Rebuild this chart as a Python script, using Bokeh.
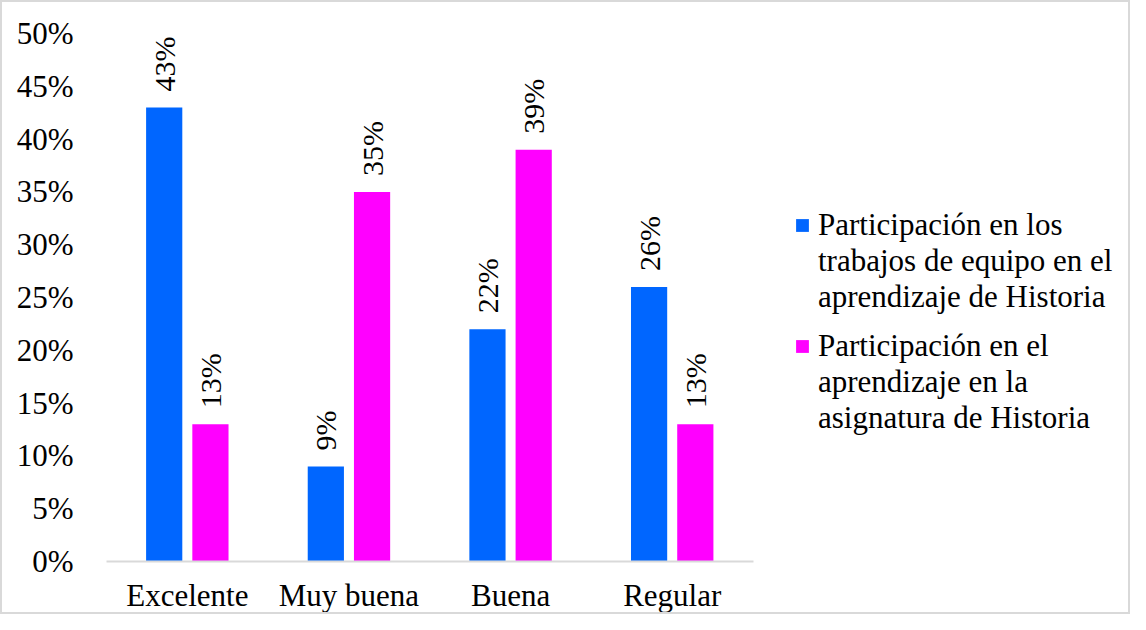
import math
from bokeh.plotting import figure
from bokeh.models import ColumnDataSource, Legend, LegendItem, FixedTicker, CustomJSTickFormatter, Range1d
from bokeh.transform import dodge
from bokeh.core.properties import value
from bokeh.embed import file_html
from bokeh.resources import INLINE

categories = ["Excelente", "Muy buena", "Buena", "Regular"]
equipo = [43, 9, 22, 26]
asignatura = [13, 35, 39, 13]
legend_lines_a = ["Participación en los", "trabajos de equipo en el", "aprendizaje de Historia"]
legend_lines_b = ["Participación en el", "aprendizaje en la", "asignatura de Historia"]
y_ticks = [0, 5, 10, 15, 20, 25, 30, 35, 40, 45, 50]

idx = list(range(len(categories)))
src = ColumnDataSource(dict(
    x=idx,
    a=equipo,
    b=asignatura,
    la=[f"{v}%" for v in equipo],
    lb=[f"{v}%" for v in asignatura],
))

W, H = 1130, 614
SERIF = "Liberation Serif"
# frame spans the full right side so the legend can sit inside it
x_range = Range1d(-0.5, -0.5 + 1022 / 161)
p = figure(x_range=x_range, y_range=(0, 50), width=W, height=H,
           output_backend="svg", toolbar_location=None,
           min_border_left=104, min_border_right=0, min_border_top=31, min_border_bottom=55)
p.styles = {"border": "2px solid #d9d9d9", "box-sizing": "border-box"}
p.outline_line_color = None
p.xgrid.grid_line_color = None
p.ygrid.grid_line_color = None
p.background_fill_color = "white"
p.border_fill_color = "white"

OFF, BW = 0.143, 0.224
r1 = p.vbar(x=dodge("x", -OFF), top="a", width=BW, source=src,
            fill_color="#0066FF", line_color=None)
r2 = p.vbar(x=dodge("x", OFF), top="b", width=BW, source=src,
            fill_color="#FF00FF", line_color=None)
blank = p.vbar(x=[], top=[], width=BW, fill_alpha=0, line_alpha=0)

for col, top, off in (("la", "a", -OFF), ("lb", "b", OFF)):
    p.text(x=dodge("x", off), y=top, text=col, source=src,
           angle=math.pi / 2, text_align="left", text_baseline="middle", y_offset=-16,
           text_font=value(SERIF), text_font_size="30px", text_color="black")

# y axis
p.yaxis.ticker = FixedTicker(ticks=y_ticks)
p.yaxis.formatter = CustomJSTickFormatter(code="return tick + '%';")
p.yaxis.axis_line_color = None
p.yaxis.major_tick_line_color = None
p.yaxis.minor_tick_line_color = None
p.yaxis.major_label_standoff = 27
p.yaxis.major_label_text_font = SERIF
p.yaxis.major_label_text_font_size = "31px"
p.yaxis.major_label_text_color = "black"

# x axis
p.xaxis.ticker = FixedTicker(ticks=idx)
p.xaxis.major_label_overrides = {i: c for i, c in zip(idx, categories)}
p.xaxis.bounds = (-0.5, len(categories) - 0.5)
p.xaxis.axis_line_color = "#d9d9d9"
p.xaxis.axis_line_width = 2
p.xaxis.major_tick_line_color = None
p.xaxis.minor_tick_line_color = None
p.xaxis.major_label_standoff = 10
p.xaxis.major_label_text_font = SERIF
p.xaxis.major_label_text_font_size = "31px"
p.xaxis.major_label_text_color = "black"


def make_legend(lines, rend, loc):
    items = [LegendItem(label=lines[0], renderers=[rend])]
    items += [LegendItem(label=t, renderers=[blank]) for t in lines[1:]]
    lg = Legend(items=items, location=loc)
    lg.border_line_color = None
    lg.background_fill_alpha = 0
    lg.padding = 0
    lg.margin = 0
    lg.spacing = 0
    lg.glyph_width = 16
    lg.glyph_height = 16
    lg.label_height = 36
    lg.label_standoff = 8
    lg.label_text_font = SERIF
    lg.label_text_font_size = "31px"
    lg.label_text_color = "black"
    lg.label_text_baseline = "middle"
    return lg


p.add_layout(make_legend(legend_lines_a, r1, (688, 246)))
p.add_layout(make_legend(legend_lines_b, r2, (688, 125)))

open("out.html", "w").write(file_html(p, INLINE))
